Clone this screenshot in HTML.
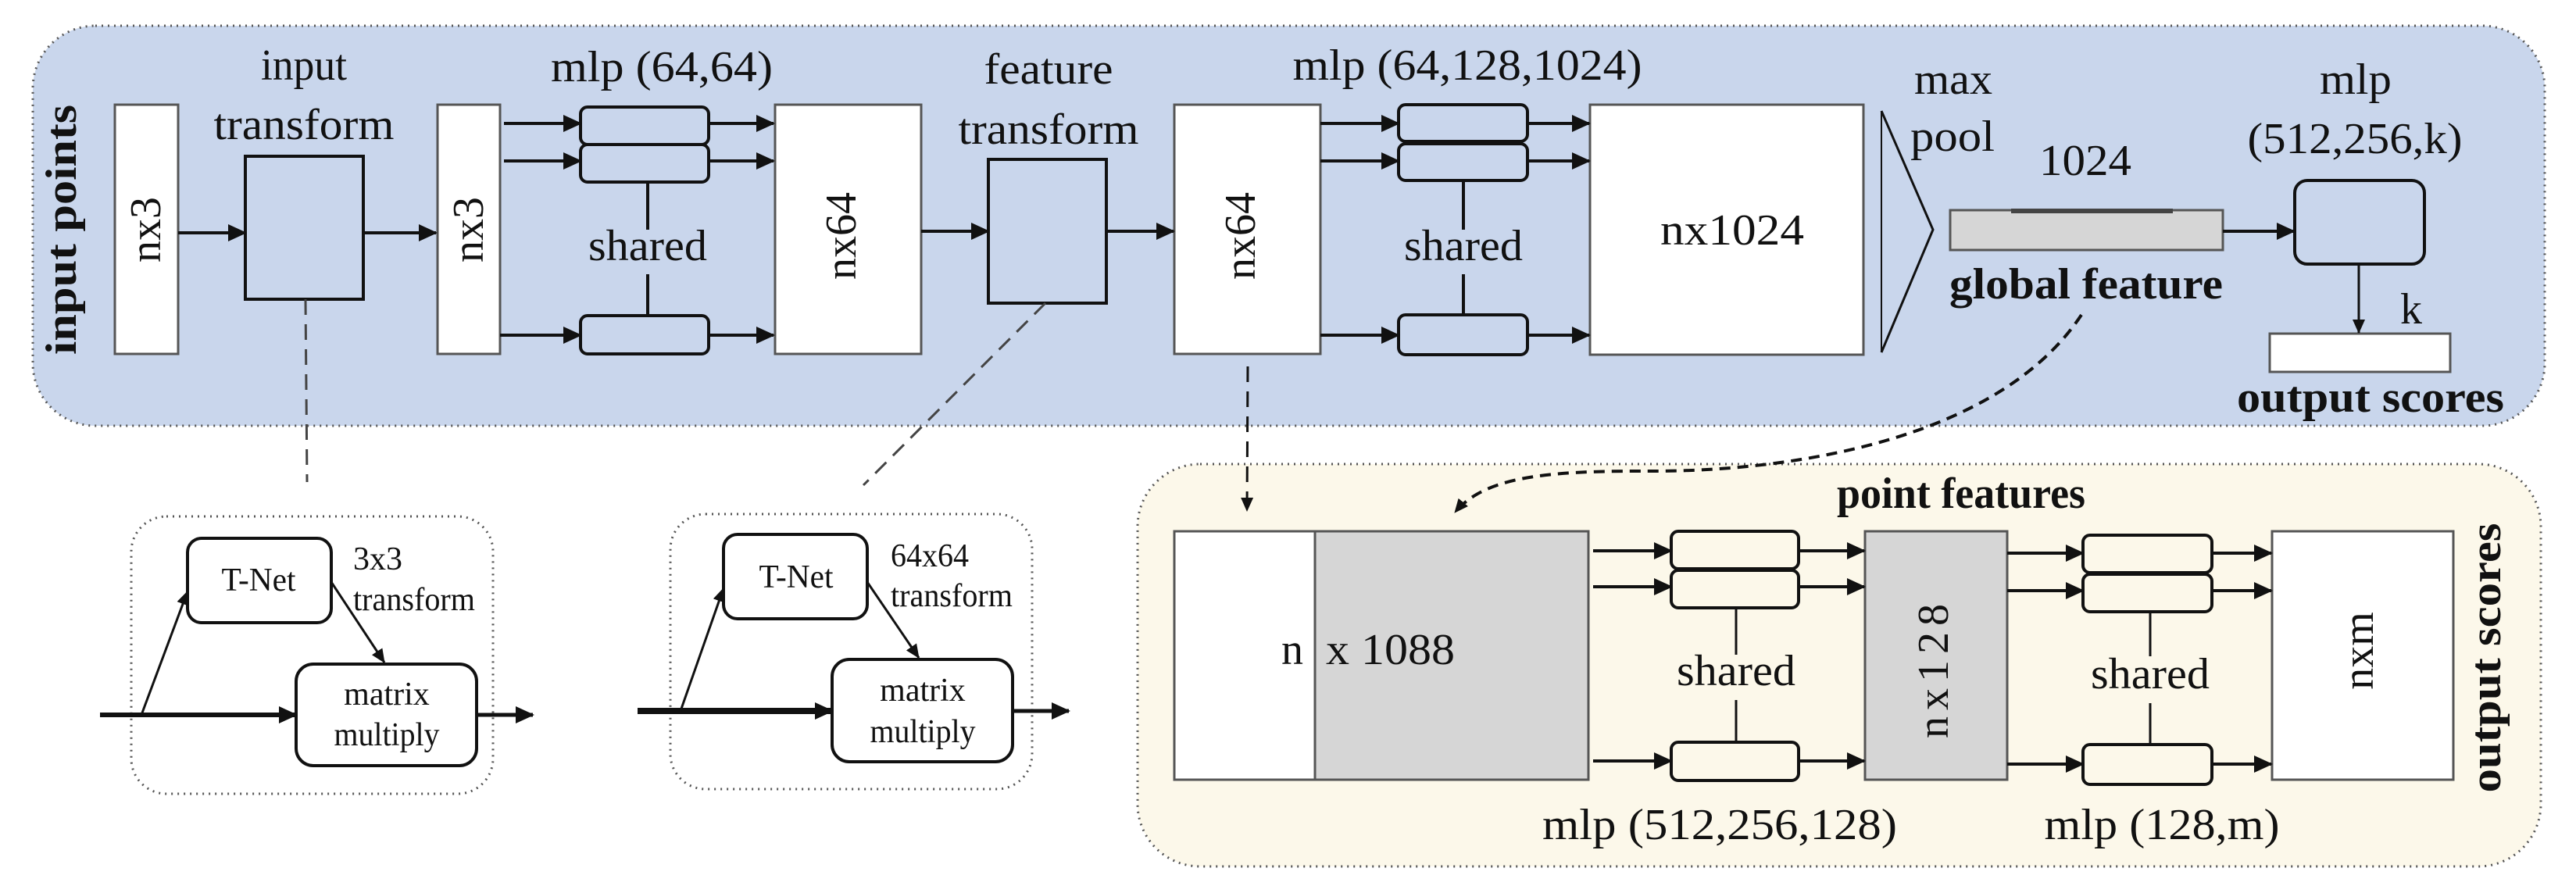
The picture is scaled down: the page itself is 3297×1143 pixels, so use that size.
<!DOCTYPE html>
<html><head><meta charset="utf-8"><style>
html,body{margin:0;padding:0;background:#fff;}
svg{display:block;font-family:"Liberation Serif","DejaVu Serif",serif;}
svg text{font-family:"Liberation Serif","DejaVu Serif",serif;fill:#111;}
.b{font-weight:bold;}
</style></head><body>
<svg width="3297" height="1143" viewBox="0 0 3297 1143" xmlns="http://www.w3.org/2000/svg" font-family="Liberation Serif, DejaVu Serif, serif">
<defs>
<marker id="a" markerUnits="userSpaceOnUse" markerWidth="24" markerHeight="22" refX="22" refY="11" orient="auto"><path d="M0,0 L24,11 L0,22 Z" fill="#111"/></marker>
<marker id="s" markerUnits="userSpaceOnUse" markerWidth="18" markerHeight="16" refX="17" refY="8" orient="auto"><path d="M0,0 L18,8 L0,16 Z" fill="#111"/></marker>
</defs>

<rect x="42" y="33" width="3215" height="512" rx="80" fill="#c9d6ec" stroke="#555" stroke-width="3" stroke-dasharray="2 6"/>
<rect x="1456" y="594" width="1796" height="515" rx="80" fill="#fcf8ea" stroke="#555" stroke-width="3" stroke-dasharray="2 6"/>
<rect x="168" y="661" width="463" height="355" rx="45" fill="none" stroke="#555" stroke-width="3" stroke-dasharray="2 6"/>
<rect x="858" y="658" width="463" height="352" rx="45" fill="none" stroke="#555" stroke-width="3" stroke-dasharray="2 6"/>

<g stroke="#111" fill="none">
<rect x="147" y="134" width="81" height="319" fill="#fff" stroke="#555" stroke-width="3"/>
<rect x="314" y="200" width="151" height="183" stroke-width="4"/>
<rect x="560" y="134" width="80" height="319" fill="#fff" stroke="#555" stroke-width="3"/>
<rect x="992" y="134" width="187" height="319" fill="#fff" stroke="#555" stroke-width="3"/>
<rect x="1265" y="204" width="151" height="184" stroke-width="4"/>
<rect x="1503" y="134" width="187" height="319" fill="#fff" stroke="#555" stroke-width="3"/>
<rect x="2035" y="134" width="350" height="320" fill="#fff" stroke="#555" stroke-width="3"/>
<rect x="743" y="137" width="164" height="48" rx="9" stroke-width="4"/>
<rect x="743" y="185" width="164" height="48" rx="9" stroke-width="4"/>
<rect x="743" y="404" width="164" height="49" rx="9" stroke-width="4"/>
<line x1="829" y1="233" x2="829" y2="294" stroke-width="4"/>
<line x1="829" y1="351" x2="829" y2="404" stroke-width="4"/>
<rect x="1790" y="134" width="165" height="47" rx="9" stroke-width="4"/>
<rect x="1790" y="184" width="165" height="47" rx="9" stroke-width="4"/>
<rect x="1790" y="403" width="165" height="51" rx="9" stroke-width="4"/>
<line x1="1873" y1="231" x2="1873" y2="294" stroke-width="4"/>
<line x1="1873" y1="351" x2="1873" y2="403" stroke-width="4"/>
<polyline points="2408,142 2474,294 2408,451" stroke-width="3"/>
<line x1="2408" y1="142" x2="2408" y2="451" stroke-width="2"/>
<rect x="2496" y="269" width="349" height="51" fill="#d6d6d6" stroke="#555" stroke-width="3"/>
<line x1="2574" y1="270" x2="2781" y2="270" stroke="#444" stroke-width="6"/>
<rect x="2937" y="231" width="166" height="107" rx="16" stroke-width="4"/>
<rect x="2905" y="427" width="231" height="49" fill="#fff" stroke="#555" stroke-width="3"/>

<g stroke-width="4" marker-end="url(#a)">
<line x1="228" y1="298" x2="314" y2="298"/>
<line x1="465" y1="298" x2="558" y2="298"/>
<line x1="645" y1="158" x2="743" y2="158"/>
<line x1="645" y1="206" x2="743" y2="206"/>
<line x1="640" y1="429" x2="743" y2="429"/>
<line x1="907" y1="158" x2="990" y2="158"/>
<line x1="907" y1="206" x2="990" y2="206"/>
<line x1="907" y1="429" x2="990" y2="429"/>
<line x1="1179" y1="296" x2="1265" y2="296"/>
<line x1="1416" y1="296" x2="1502" y2="296"/>
<line x1="1690" y1="158" x2="1790" y2="158"/>
<line x1="1690" y1="206" x2="1790" y2="206"/>
<line x1="1690" y1="429" x2="1790" y2="429"/>
<line x1="1955" y1="158" x2="2034" y2="158"/>
<line x1="1955" y1="206" x2="2034" y2="206"/>
<line x1="1955" y1="429" x2="2034" y2="429"/>
<line x1="2845" y1="296" x2="2936" y2="296"/>
</g>
<line x1="3019" y1="338" x2="3019" y2="426" stroke-width="3" marker-end="url(#s)"/>

<line x1="391" y1="383" x2="393" y2="617" stroke="#444" stroke-width="3" stroke-dasharray="20 12"/>
<line x1="1338" y1="388" x2="1105" y2="621" stroke="#444" stroke-width="3" stroke-dasharray="20 12"/>
<line x1="1597" y1="469" x2="1596" y2="654" stroke-width="3" stroke-dasharray="20 12" marker-end="url(#s)"/>
<path d="M2664,403 C2560,560 2300,605 2100,603 C1980,603 1900,610 1862,656" stroke-width="4" stroke-dasharray="14 9" marker-end="url(#s)"/>

<rect x="240" y="689" width="184" height="108" rx="18" stroke-width="4"/>
<rect x="379" y="850" width="231" height="130" rx="22" stroke-width="4"/>
<line x1="128" y1="915" x2="379" y2="915" stroke-width="6" marker-end="url(#a)"/>
<line x1="181" y1="915" x2="240" y2="757" stroke-width="3" marker-end="url(#s)"/>
<line x1="424" y1="745" x2="492" y2="848" stroke-width="3" marker-end="url(#s)"/>
<line x1="610" y1="915" x2="682" y2="915" stroke-width="5" marker-end="url(#a)"/>

<rect x="926" y="684" width="184" height="108" rx="18" stroke-width="4"/>
<rect x="1065" y="844" width="231" height="131" rx="22" stroke-width="4"/>
<line x1="816" y1="910" x2="1065" y2="910" stroke-width="8" marker-end="url(#a)"/>
<line x1="871" y1="910" x2="926" y2="753" stroke-width="3" marker-end="url(#s)"/>
<line x1="1110" y1="745" x2="1176" y2="842" stroke-width="3" marker-end="url(#s)"/>
<line x1="1296" y1="910" x2="1368" y2="910" stroke-width="5" marker-end="url(#a)"/>

<rect x="1503" y="680" width="180" height="318" fill="#fff" stroke="#555" stroke-width="3"/>
<rect x="1683" y="680" width="350" height="318" fill="#d6d6d6" stroke="#555" stroke-width="3"/>
<rect x="2139" y="680" width="163" height="48" rx="9" fill="#fcf8ea" stroke-width="4"/>
<rect x="2139" y="730" width="163" height="48" rx="9" fill="#fcf8ea" stroke-width="4"/>
<rect x="2139" y="950" width="163" height="49" rx="9" fill="#fcf8ea" stroke-width="4"/>
<line x1="2222" y1="778" x2="2222" y2="838" stroke-width="3"/>
<line x1="2222" y1="896" x2="2222" y2="950" stroke-width="3"/>
<rect x="2387" y="680" width="182" height="318" fill="#d6d6d6" stroke="#555" stroke-width="3"/>
<rect x="2666" y="685" width="165" height="48" rx="9" fill="#fcf8ea" stroke-width="4"/>
<rect x="2666" y="735" width="165" height="48" rx="9" fill="#fcf8ea" stroke-width="4"/>
<rect x="2666" y="953" width="165" height="51" rx="9" fill="#fcf8ea" stroke-width="4"/>
<line x1="2752" y1="783" x2="2752" y2="840" stroke-width="3"/>
<line x1="2752" y1="900" x2="2752" y2="953" stroke-width="3"/>
<rect x="2908" y="680" width="232" height="318" fill="#fff" stroke="#555" stroke-width="3"/>
<g stroke-width="4" marker-end="url(#a)">
<line x1="2039" y1="705" x2="2139" y2="705"/>
<line x1="2039" y1="751" x2="2139" y2="751"/>
<line x1="2039" y1="974" x2="2139" y2="974"/>
<line x1="2302" y1="705" x2="2386" y2="705"/>
<line x1="2302" y1="751" x2="2386" y2="751"/>
<line x1="2302" y1="974" x2="2386" y2="974"/>
<line x1="2569" y1="708" x2="2666" y2="708"/>
<line x1="2569" y1="756" x2="2666" y2="756"/>
<line x1="2569" y1="978" x2="2666" y2="978"/>
<line x1="2831" y1="708" x2="2907" y2="708"/>
<line x1="2831" y1="756" x2="2907" y2="756"/>
<line x1="2831" y1="978" x2="2907" y2="978"/>
</g>
</g>

<g font-size="56" text-anchor="middle" font-family="Liberation Serif, DejaVu Serif, serif">
<text x="389" y="102" textLength="110" lengthAdjust="spacingAndGlyphs">input</text>
<text x="389" y="178" textLength="231" lengthAdjust="spacingAndGlyphs">transform</text>
<text x="847" y="104" textLength="284" lengthAdjust="spacingAndGlyphs">mlp (64,64)</text>
<text x="829" y="333" textLength="152" lengthAdjust="spacingAndGlyphs">shared</text>
<text x="1342" y="107" textLength="165" lengthAdjust="spacingAndGlyphs">feature</text>
<text x="1342" y="184" textLength="231" lengthAdjust="spacingAndGlyphs">transform</text>
<text x="1878" y="102" textLength="447" lengthAdjust="spacingAndGlyphs">mlp (64,128,1024)</text>
<text x="1873" y="333" textLength="152" lengthAdjust="spacingAndGlyphs">shared</text>
<text x="2217" y="313" textLength="184" lengthAdjust="spacingAndGlyphs">nx1024</text>
<text x="2500" y="120" textLength="100" lengthAdjust="spacingAndGlyphs">max</text>
<text x="2499" y="193" textLength="108" lengthAdjust="spacingAndGlyphs">pool</text>
<text x="2669" y="224" textLength="118" lengthAdjust="spacingAndGlyphs">1024</text>
<text x="3015" y="120" textLength="92" lengthAdjust="spacingAndGlyphs">mlp</text>
<text x="3014" y="196" textLength="275" lengthAdjust="spacingAndGlyphs">(512,256,k)</text>
<text x="3086" y="414">k</text>
<text class="b" x="2670" y="382" textLength="350" lengthAdjust="spacingAndGlyphs">global feature</text>
<text class="b" x="3034" y="527" textLength="342" lengthAdjust="spacingAndGlyphs">output scores</text>
<text class="b" x="2510" y="650" textLength="318" lengthAdjust="spacingAndGlyphs">point features</text>
<text x="2222" y="877" textLength="152" lengthAdjust="spacingAndGlyphs">shared</text>
<text x="2752" y="881" textLength="152" lengthAdjust="spacingAndGlyphs">shared</text>
<text x="2201" y="1074" textLength="454" lengthAdjust="spacingAndGlyphs">mlp (512,256,128)</text>
<text x="2767" y="1074" textLength="301" lengthAdjust="spacingAndGlyphs">mlp (128,m)</text>
<text x="1668" y="850" text-anchor="end">n</text>
<text x="1697" y="850" text-anchor="start" textLength="165" lengthAdjust="spacingAndGlyphs">x 1088</text>
</g>
<g font-size="42" text-anchor="middle" font-family="Liberation Serif, DejaVu Serif, serif">
<text x="331" y="756" textLength="95" lengthAdjust="spacingAndGlyphs">T-Net</text>
<text x="495" y="902">matrix</text>
<text x="495" y="954" textLength="135" lengthAdjust="spacingAndGlyphs">multiply</text>
<text x="452" y="729" text-anchor="start">3x3</text>
<text x="452" y="781" text-anchor="start" textLength="156" lengthAdjust="spacingAndGlyphs">transform</text>
<text x="1019" y="752" textLength="95" lengthAdjust="spacingAndGlyphs">T-Net</text>
<text x="1181" y="897">matrix</text>
<text x="1181" y="950" textLength="135" lengthAdjust="spacingAndGlyphs">multiply</text>
<text x="1140" y="725" text-anchor="start" textLength="100" lengthAdjust="spacingAndGlyphs">64x64</text>
<text x="1140" y="776" text-anchor="start" textLength="156" lengthAdjust="spacingAndGlyphs">transform</text>
</g>
<g font-size="56" text-anchor="middle" font-family="Liberation Serif, DejaVu Serif, serif">
<text class="b" transform="translate(97,294) rotate(-90)" textLength="320" lengthAdjust="spacingAndGlyphs">input points</text>
<text transform="translate(205,294) rotate(-90)">nx3</text>
<text transform="translate(618,294) rotate(-90)">nx3</text>
<text transform="translate(1095,302) rotate(-90)">nx64</text>
<text transform="translate(1606,302) rotate(-90)">nx64</text>
<text transform="translate(2493,855) rotate(-90)" letter-spacing="8">nx128</text>
<text transform="translate(3037,833) rotate(-90)">nxm</text>
<text class="b" transform="translate(3200,842) rotate(-90)" textLength="345" lengthAdjust="spacingAndGlyphs">output scores</text>
</g>
</svg>
</body></html>
